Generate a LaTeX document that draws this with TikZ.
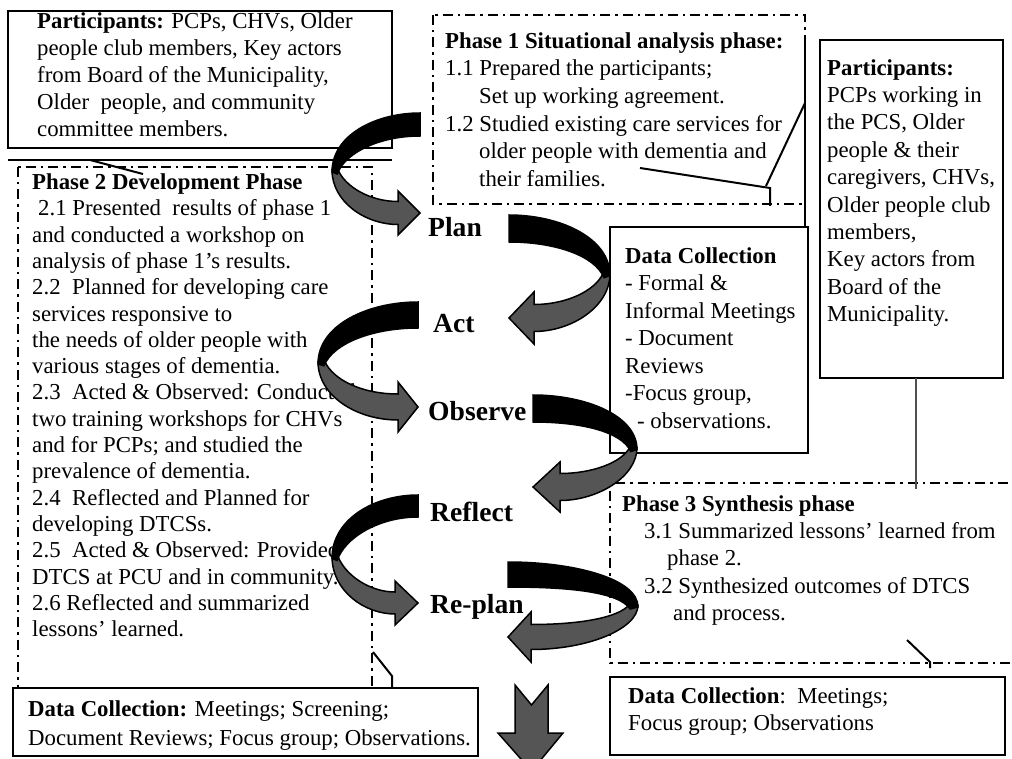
\documentclass[tikz,border=0pt]{standalone}
\usepackage{fontspec}
\setmainfont{Liberation Serif}
\definecolor{ribbongray}{RGB}{85,85,85}
\definecolor{linkgray}{RGB}{80,80,80}
\begin{document}
\begin{tikzpicture}[x=1pt,y=-1pt,
  box/.style={draw, line width=2pt, fill=white},
  phasebox/.style={draw, line width=1.8pt, dash pattern=on 10pt off 5pt on 2.5pt off 5pt},
  % multi-line text, anchored on the baseline of its last line
  txt/.style={anchor=base west, inner sep=0pt, align=left, font=\fontsize{22.8}{#1}\selectfont},
  lbl/.style={anchor=base west, inner sep=0pt, font=\bfseries\fontsize{27.6}{30}\selectfont},
  thinlink/.style={draw, line width=2pt},
  backfill/.style={fill=black, draw=black, line width=1.5pt},
  frontfill/.style={fill=ribbongray, draw=black, line width=1.5pt},
  % curved ribbon arrow: depth, drop to tip, band width, head half-height, head depth
  pics/ribbon/.style n args={5}{code={
    \pgfmathsetmacro\rbD{#1}\pgfmathsetmacro\rbT{#2}\pgfmathsetmacro\rbW{#3}
    \pgfmathsetmacro\rbH{#4}\pgfmathsetmacro\rbK{#5}
    \pgfmathsetmacro\rbM{0.56*#2}
    \filldraw[frontfill] ({-\rbD},{\rbM+1})
      .. controls ({-\rbD},{\rbM+0.75*(\rbT-\rbM)}) and ({-0.62*\rbD},{\rbT+\rbW/2}) .. ({-\rbK},{\rbT+\rbW/2})
      -- ({-\rbK},{\rbT+\rbH}) -- (0,\rbT) -- ({-\rbK},{\rbT-\rbH}) -- ({-\rbK},{\rbT-\rbW/2})
      .. controls ({-0.57*\rbD},{\rbT-\rbW/2}) and ({-0.85*\rbD},{\rbM+0.4*(\rbT-\rbM)}) .. ({-0.93*\rbD},{\rbM+1})
      -- cycle;
    \filldraw[backfill] (0,0)
      .. controls ({-0.5*\rbD},0) and ({-\rbD},{0.39*\rbM}) .. ({-\rbD},{\rbM+3})
      -- ({-0.94*\rbD},{\rbM+5})
      .. controls ({-0.85*\rbD},{0.7*\rbM}) and ({-0.45*\rbD},\rbW) .. (0,\rbW) -- cycle;
  }}
]
\useasboundingbox (0,0) rectangle (1012,759);
\clip (0,0) rectangle (1012,759);

% dash-dotted phase frames
\draw[phasebox] (433,15) rectangle (805,204);
\draw[phasebox] (18,167) rectangle (372,688);
\draw[phasebox] (1030,483) -- (610,483) -- (610,663) -- (1030,663);

% solid boxes
\draw[box] (8,11) rectangle (392,148);
\draw[box] (610,227) rectangle (808,453);
\draw[box] (820,40) rectangle (1003,378);
\draw[box] (13,688) rectangle (478,756);
\draw[box] (610,677) rectangle (1005,755);
\draw[line width=2pt] (805,40) -- (805,227);
\draw[line width=2pt] (8,160) -- (392,160);

% texts
\node[txt=27] (parta) at (37,136.5) {\textbf{Participants:} PCPs, CHVs, Older\\
people club members, Key actors\\
from Board of the Municipality,\\
Older\ \ people, and community\\
committee members.};

\node[txt=27.6] (phaseone) at (445,186.3) {\textbf{Phase 1 Situational analysis phase:}\\
1.1 Prepared the participants;\\
\hspace*{34pt}Set up working agreement.\\
1.2 Studied existing care services for\\
\hspace*{34pt}older people with dementia and\\
\hspace*{34pt}their families.};

\node[txt=26.3] (phasetwo) at (32,636.6) {\textbf{Phase 2 Development Phase}\\
\hspace*{6pt}2.1 Presented\ \ results of phase 1\\
and conducted a workshop on\\
analysis of phase 1’s results.\\
2.2\ \ Planned for developing care\\
services responsive to\\
the needs of older people with\\
various stages of dementia.\\
2.3\ \ Acted \& Observed: Conducted\\
two training workshops for CHVs\\
and for PCPs; and studied the\\
prevalence of dementia.\\
2.4\ \ Reflected and Planned for\\
developing DTCSs.\\
2.5\ \ Acted \& Observed: Provided\\
DTCS at PCU and in community.\\
2.6 Reflected and summarized\\
lessons’ learned.};

\node[txt=27.4] (partb) at (827,321.6) {\textbf{Participants:}\\
PCPs working in\\
the PCS, Older\\
people \& their\\
caregivers, CHVs,\\
Older people club\\
members,\\
Key actors from\\
Board of the\\
Municipality.};

\node[txt=27.5] (datamid) at (625,428) {\textbf{Data Collection}\\
- Formal \&\\
Informal Meetings\\
- Document\\
Reviews\\
-Focus group,\\
\hspace*{12pt}- observations.};

\node[txt=27.1] (phasethree) at (622,620.1) {\textbf{Phase 3 Synthesis phase}\\
\hspace*{22pt}3.1 Summarized lessons’ learned from\\
\hspace*{45pt}phase 2.\\
\hspace*{22pt}3.2 Synthesized outcomes of DTCS\\
\hspace*{51pt}and process.};

\node[txt=26.7] (dataright) at (628,730) {\textbf{Data Collection}:\ \ Meetings;\\
Focus group; Observations};

\node[txt=28.3] (dataleft) at (28,745) {\textbf{Data Collection:} Meetings; Screening;\\
Document Reviews; Focus group; Observations.};

% cycle labels
\node[lbl] (plan) at (428,236.7) {Plan};
\node[lbl] (act) at (433,333) {Act};
\node[lbl] (observe) at (428,420) {Observe};
\node[lbl] (reflect) at (430,521.7) {Reflect};
\node[lbl] (replan) at (430,613) {Re-plan};

% callout strokes
\coordinate (ca1) at (90,160);   \coordinate (ca2) at (143,174);
\coordinate (cb1) at (640,168);  \coordinate (cb2) at (770,188);  \coordinate (cb3) at (770,206);
\coordinate (cc1) at (766,186);  \coordinate (cc2) at (805,103);
\coordinate (cd1) at (373,652);  \coordinate (cd2) at (392,676);  \coordinate (cd3) at (392,688);
\coordinate (ce1) at (907,640);  \coordinate (ce2) at (930,662);  \coordinate (ce3) at (930,668);
\coordinate (cf1) at (916,378);  \coordinate (cf2) at (916,489);
\draw[thinlink] (ca1) -- (ca2);
\draw[thinlink] (cb1) -- (cb2) -- (cb3);
\draw[thinlink] (cc1) -- (cc2);
\draw[thinlink] (cd1) -- (cd2) -- (cd3);
\draw[thinlink] (ce1) -- (ce2) -- (ce3);
\draw[line width=2pt, draw=linkgray] (cf1) -- (cf2);

% curved ribbon arrows of the cycle
\pic at (420,113) {ribbon={88}{100}{23}{22}{22}};
\pic[xscale=-1] at (509,215) {ribbon={101}{103}{27}{26}{25}};
\pic at (418,302) {ribbon={100}{105}{26}{25}{20}};
\pic[xscale=-1] at (533,395) {ribbon={104}{92}{27}{25}{27}};
\pic at (418,495) {ribbon={86}{108}{22}{22}{23}};
\pic[xscale=-1] at (508,562) {ribbon={130}{75}{25}{25}{23}};

% downward block arrow
\filldraw[frontfill] (515,685) -- (531.5,705) -- (548,685) -- (548,733) -- (563,733)
  -- (531.5,771) -- (498,733) -- (515,733) -- cycle;
\end{tikzpicture}
\end{document}
